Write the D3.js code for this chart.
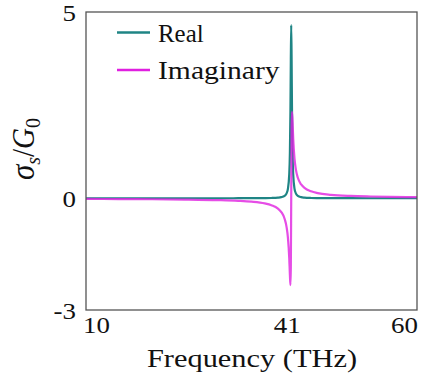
<!DOCTYPE html>
<html><head><meta charset="utf-8">
<script src="https://cdn.jsdelivr.net/npm/d3@7"></script>
<style>html,body{margin:0;padding:0;background:#fff;}</style>
</head><body>
<svg id="chart" width="423" height="374"></svg>
<script>
const freqs = [10, 15, 20, 25, 30, 33, 35, 37, 38, 39, 39.5, 40, 40.3, 40.5, 40.7, 40.8, 40.88, 40.94, 41, 41.06, 41.12, 41.2, 41.3, 41.5, 41.7, 42, 42.5, 43, 44, 45, 47, 50, 53, 56, 60];
const realVals = [0, 0, 0, 0, 0, 0.001, 0.002, 0.004, 0.007, 0.017, 0.03, 0.066, 0.133, 0.253, 0.64, 1.23, 2.32, 3.72, 4.65, 3.72, 2.32, 1.23, 0.64, 0.253, 0.133, 0.066, 0.03, 0.017, 0.007, 0.004, 0.002, 0.001, 0, 0, 0];
const imagVals = [-0.018, -0.022, -0.027, -0.035, -0.051, -0.07, -0.093, -0.139, -0.186, -0.278, -0.37, -0.55, -0.774, -1.055, -1.6, -2.05, -2.33, -1.86, 0, 1.86, 2.32, 2.05, 1.6, 1.055, 0.774, 0.55, 0.37, 0.278, 0.186, 0.139, 0.093, 0.062, 0.047, 0.037, 0.029];
const xTicks = [10, 41, 60];
const yTicks = [-3, 0, 5];
const seriesNames = ["Real", "Imaginary"];
const seriesColors = ["#1f8585", "#e020e0"];

const svg = d3.select("#chart");
const m = {l: 86, r: 417, t: 12, b: 310};
const x = d3.scaleLinear().domain([10, 60]).range([m.l, m.r]);
const y = d3.scaleLinear().domain([-3, 5]).range([m.b, m.t]);
const SX = 1.17;
const font = "'Liberation Serif', 'Times New Roman', serif";

svg.append("clipPath").attr("id", "clip").append("rect")
  .attr("x", m.l).attr("y", m.t).attr("width", m.r - m.l).attr("height", m.b - m.t);

const line = d3.line().curve(d3.curveMonotoneX);
const g = svg.append("g").attr("clip-path", "url(#clip)");
const realPts = freqs.map((f, i) => [x(f), y(realVals[i])]);
const imagPts = freqs.map((f, i) => [x(f), y(imagVals[i])]);
g.append("path").attr("d", line(realPts)).attr("fill", "none")
  .attr("stroke", seriesColors[0]).attr("stroke-width", 2.2);
g.append("path").attr("d", line(imagPts)).attr("fill", "none")
  .attr("stroke", seriesColors[1]).attr("stroke-width", 2.2).attr("stroke-opacity", 0.8);

// frame
svg.append("rect").attr("x", m.l).attr("y", m.t).attr("width", m.r - m.l).attr("height", m.b - m.t)
  .attr("fill", "none").attr("stroke", "#555").attr("stroke-width", 1.3);

function txt(s, tx, ty, size, anchor) {
  return svg.append("text").attr("transform", `translate(${tx},${ty}) scale(${SX},1)`)
    .attr("text-anchor", anchor).attr("font-family", font).attr("font-size", size)
    .attr("fill", "#111").text(s);
}

// y ticks
yTicks.forEach(v => txt(String(v), 76, y(v) + 9, 23, "end"));
// x ticks
xTicks.forEach((v, i) => {
  const anchor = i === 0 ? "start" : (i === xTicks.length - 1 ? "end" : "middle");
  const dx = i === 0 ? -3 : (i === xTicks.length - 1 ? 1 : -4);
  txt(String(v), x(v) + dx, 333, 23, anchor);
});
// x label
txt("Frequency (THz)", 252, 367, 26, "middle");

// y label
const yl = svg.append("text")
  .attr("transform", `translate(34,149) rotate(-90) scale(1,1.1)`)
  .attr("text-anchor", "middle").attr("font-family", font).attr("font-size", 29).attr("fill", "#111");
yl.append("tspan").attr("font-style", "italic").attr("font-size", 31).text("σ");
yl.append("tspan").attr("font-style", "italic").attr("font-size", 20).attr("dy", 5).text("s");
yl.append("tspan").attr("dy", -5).text("/");
yl.append("tspan").attr("font-style", "italic").text("G");
yl.append("tspan").attr("font-size", 20).attr("dy", 5).text("0");

// legend
const legY = [32.5, 70];
const legW = [39, 104];
seriesNames.forEach((name, i) => {
  svg.append("line").attr("x1", 117).attr("x2", 150).attr("y1", legY[i]).attr("y2", legY[i])
    .attr("stroke", seriesColors[i]).attr("stroke-width", 2.5);
  txt(name, 158, legY[i] + 9, 25, "start")
    .attr("textLength", legW[i]).attr("lengthAdjust", "spacingAndGlyphs");
});
</script>
</body></html>
